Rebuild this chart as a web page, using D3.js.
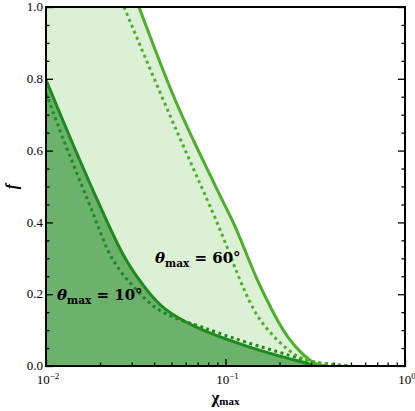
<!DOCTYPE html>
<html>
<head>
<meta charset="utf-8">
<script src="https://cdn.jsdelivr.net/npm/d3@7"></script>
<style>
  body { margin: 0; background: #fff; }
  text { font-family: "Liberation Serif", "DejaVu Serif", serif; }
</style>
</head>
<body>
<svg id="chart" width="415" height="411"></svg>
<script>
// ---- data ----
const chi10Solid = [0.01, 0.014505, 0.02187, 0.02755, 0.03561, 0.04486, 0.06939, 0.0874, 0.1335, 0.2064, 0.2882, 0.3152];
const f10Solid   = [0.797, 0.602, 0.401, 0.295, 0.217, 0.156, 0.106, 0.086, 0.053, 0.025, 0.0075, 0.0];

const chi10Dot = [0.01, 0.01309, 0.019235, 0.02273, 0.03339, 0.04486, 0.06939, 0.0874, 0.1335, 0.2064, 0.2535, 0.3033, 0.382, 0.4633];
const f10Dot   = [0.760, 0.602, 0.401, 0.295, 0.198, 0.142, 0.114, 0.095, 0.064, 0.036, 0.022, 0.011, 0.003, 0.0];

const chi60Solid = [0.03296, 0.05165, 0.07028, 0.09561, 0.11294, 0.1335, 0.1518, 0.1725, 0.1961, 0.2230, 0.2600, 0.3033, 0.3276, 0.3584];
const f60Solid   = [1.0, 0.741, 0.602, 0.462, 0.393, 0.301, 0.234, 0.178, 0.123, 0.078, 0.039, 0.011, 0.003, 0.0];

const chi60Dot = [0.02720, 0.04486, 0.06762, 0.09319, 0.1129, 0.1285, 0.1460, 0.1660, 0.1936, 0.2230, 0.2535, 0.3033, 0.3584, 0.4344, 0.5068];
const f60Dot   = [1.0, 0.741, 0.539, 0.384, 0.273, 0.206, 0.148, 0.109, 0.072, 0.045, 0.025, 0.011, 0.007, 0.003, 0.0];

const xDomain = [0.01, 1];
const yDomain = [0, 1];
const yMajorTicks = [0, 0.2, 0.4, 0.6, 0.8, 1.0];
const yMinorTicks = [0.05,0.1,0.15,0.25,0.3,0.35,0.45,0.5,0.55,0.65,0.7,0.75,0.85,0.9,0.95];
const xMajorTicks = [0.01, 0.1, 1];
const xMajorExp = ["−2", "−1", "0"];
const xMinorTicks = [0.02,0.03,0.04,0.05,0.06,0.07,0.08,0.09,0.2,0.3,0.4,0.5,0.6,0.7,0.8,0.9];
const labels60 = "60°";
const labels10 = "10°";

// ---- layout ----
const svg = d3.select("#chart");
const L = 46, R = 405, T = 7, B = 366;
const x = d3.scaleLog().domain(xDomain).range([L, R]);
const y = d3.scaleLinear().domain(yDomain).range([B, T]);

const zip = (xs, ys) => xs.map((v, i) => ({x: v, f: ys[i]}));
const s10 = zip(chi10Solid, f10Solid);
const d10 = zip(chi10Dot, f10Dot);
const s60 = zip(chi60Solid, f60Solid);
const d60 = zip(chi60Dot, f60Dot);

svg.append("defs").append("clipPath").attr("id", "clip")
  .append("rect").attr("x", L).attr("y", T).attr("width", R - L).attr("height", B - T);

const g = svg.append("g").attr("clip-path", "url(#clip)");
const curve = d3.curveBasis;

const area = d3.area().x(d => x(d.x)).y0(y(0)).y1(d => y(d.f)).curve(curve);
const line = d3.line().x(d => x(d.x)).y(d => y(d.f)).curve(curve);

// light fill: full height left of where the 60° solid enters the frame, then under that curve
g.append("rect").attr("x", L).attr("y", T).attr("width", x(chi60Solid[0]) - L).attr("height", B - T)
  .attr("fill", "#dcf0d5");
g.append("path").datum(s60).attr("d", area).attr("fill", "#dcf0d5");
// dark fill under 10° solid
g.append("path").datum(s10).attr("d", area).attr("fill", "#6cb26c");

// lines
g.append("path").datum(d10).attr("d", line).attr("fill", "none")
  .attr("stroke", "#1c8a1c").attr("stroke-width", 3).attr("stroke-dasharray", "3,3.5");
g.append("path").datum(s10).attr("d", line).attr("fill", "none")
  .attr("stroke", "#1c8a1c").attr("stroke-width", 3);
g.append("path").datum(d60).attr("d", line).attr("fill", "none")
  .attr("stroke", "#4daf2b").attr("stroke-width", 3).attr("stroke-dasharray", "3,3.5");
g.append("path").datum(s60).attr("d", line).attr("fill", "none")
  .attr("stroke", "#4daf2b").attr("stroke-width", 3);

// ---- axes (ticks inward) ----
const ax = svg.append("g");
const major = 7, minor = 3.5;
ax.append("g").attr("transform", `translate(${L},0)`)
  .call(d3.axisRight(y).tickValues(yMajorTicks).tickSize(major).tickFormat(""))
  .call(a => a.select(".domain").remove());
ax.append("g").attr("transform", `translate(${L},0)`)
  .call(d3.axisRight(y).tickValues(yMinorTicks).tickSize(minor).tickFormat(""))
  .call(a => a.select(".domain").remove());
ax.append("g").attr("transform", `translate(${R},0)`)
  .call(d3.axisLeft(y).tickValues(yMajorTicks).tickSize(major).tickFormat(""))
  .call(a => a.select(".domain").remove());
ax.append("g").attr("transform", `translate(${R},0)`)
  .call(d3.axisLeft(y).tickValues(yMinorTicks).tickSize(minor).tickFormat(""))
  .call(a => a.select(".domain").remove());
ax.append("g").attr("transform", `translate(0,${B})`)
  .call(d3.axisTop(x).tickValues(xMajorTicks).tickSize(major).tickFormat(""))
  .call(a => a.select(".domain").remove());
ax.append("g").attr("transform", `translate(0,${B})`)
  .call(d3.axisTop(x).tickValues(xMinorTicks).tickSize(minor).tickFormat(""))
  .call(a => a.select(".domain").remove());
ax.selectAll(".tick line").attr("stroke", "#000").attr("stroke-width", 1.3);

// frame
svg.append("rect").attr("x", L).attr("y", T).attr("width", R - L).attr("height", B - T)
  .attr("fill", "none").attr("stroke", "#000").attr("stroke-width", 2);

// y tick labels
svg.append("g").selectAll("text").data(yMajorTicks).join("text")
  .attr("x", L - 3).attr("y", d => y(d)).attr("dy", "0.33em")
  .attr("text-anchor", "end").attr("font-size", 13).attr("fill", "#000")
  .text(d => d.toFixed(1));

// x tick labels
const xl = svg.append("g").selectAll("text").data(xMajorTicks).join("text")
  .attr("x", d => x(d) + 2).attr("y", B + 18).attr("text-anchor", "middle")
  .attr("font-size", 13).attr("fill", "#000");
xl.append("tspan").text("10");
xl.append("tspan").attr("dy", -5).attr("font-size", 9).text((d, i) => xMajorExp[i]);

// axis titles
svg.append("text").attr("transform", `translate(17,${(T + B) / 2}) rotate(-90)`)
  .attr("text-anchor", "middle").attr("font-size", 16).attr("font-style", "italic")
  .attr("font-weight", "bold").text("f");
const xt = svg.append("text").attr("x", (L + R) / 2).attr("y", 403)
  .attr("text-anchor", "middle").attr("font-size", 17).attr("font-weight", "bold");
xt.append("tspan").text("χ");
xt.append("tspan").attr("font-size", 11).attr("dy", 2).text("max");

// annotations
function annot(tx, ty, deg) {
  const t = svg.append("text").attr("x", tx).attr("y", ty).attr("font-size", 15)
    .attr("font-weight", "bold").attr("fill", "#000")
    .style("font-family", "'DejaVu Serif', serif");
  t.append("tspan").attr("font-style", "italic").text("θ");
  t.append("tspan").attr("font-size", 10.5).attr("dy", 4).text("max");
  t.append("tspan").attr("dy", -4).text(" = " + deg);
}
annot(155, 263, labels60);
annot(57, 300, labels10);
</script>
</body>
</html>
